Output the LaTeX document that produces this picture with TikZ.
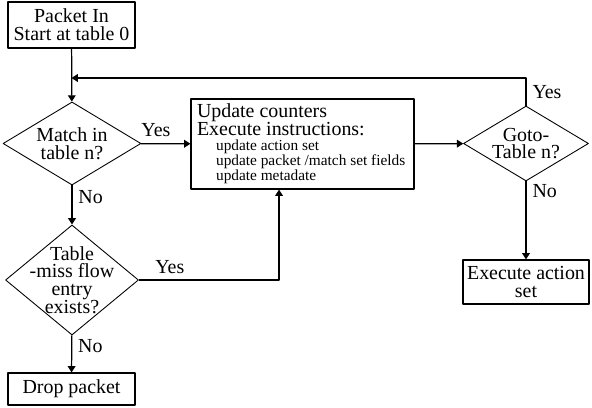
\documentclass[tikz,border=0pt]{standalone}
\usepackage{fontspec}
\setmainfont{Liberation Serif}
\usetikzlibrary{shapes.geometric,arrows.meta}
\newcommand\smallfont{\fontsize{8.7pt}{8.5pt}\selectfont}
\begin{document}
\begin{tikzpicture}[x=0.567pt,y=-0.567pt,line join=round,>={Triangle[length=3.6pt,width=4.4pt]},line width=0.7pt]
	\tikzset{every node/.style={font=\fontsize{11.3pt}{10pt}\selectfont},
		block/.style={draw,rectangle,align=center,inner sep=0pt},
		decision/.style={draw,diamond,inner sep=0pt,line width=0.5pt}}
	\useasboundingbox (0,0) rectangle (592,408);
	% boxes
	\node[block,minimum width=72pt,minimum height=26.1pt] (start) at (71.5,25) {Packet In\\Start at table 0};
	\node[decision,minimum width=78.2pt,minimum height=47.1pt,label={[align=center]center:Match in\\table n?}] (match) at (72,143.5) {};
	\node[block,minimum width=126.4pt,minimum height=51pt] (update) at (302.5,144) {\parbox{119.6pt}{Update counters\\Execute instructions:\par
		\smallfont\leftskip=10.8pt update action set\\update packet /match set fields\\update metadate\par}};
	\node[decision,minimum width=70.9pt,minimum height=42.5pt,label={[align=center]center:Goto-\\Table n?}] (goto) at (526,143.5) {};
	\node[block,minimum width=71.4pt,minimum height=24.9pt] (exec) at (526,282) {Execute action\\set};
	\node[decision,minimum width=75.4pt,minimum height=62.4pt,label={[align=center]center:Table\\-miss flow\\entry\\exists?}] (tbl) at (72,280) {};
	\node[block,minimum width=72pt,minimum height=18.1pt] (drop) at (71.5,389) {Drop packet};
	\coordinate (back) at (start.south |- 0,78);
	% arrows
	\draw[->] (start) -- (match);
	\draw[->] (match) -- node[pos=0.3,above] {Yes} (update);
	\draw[->] (update) -- (goto);
	\draw[->] (goto.north) |- node[pos=0.25,right] {Yes} (back);
	\draw[->] (goto) -- node[pos=0.12,anchor=west] {No} (exec);
	\draw[->] (match) -- node[pos=0.3,anchor=west] {No} (tbl);
	\draw[->] (tbl.east) -| node[pos=0.11,above] {Yes} ([xshift=-13.3pt]update.south);
	\draw[->] (tbl) -- node[pos=0.3,anchor=west] {No} (drop);
\end{tikzpicture}
\end{document}
